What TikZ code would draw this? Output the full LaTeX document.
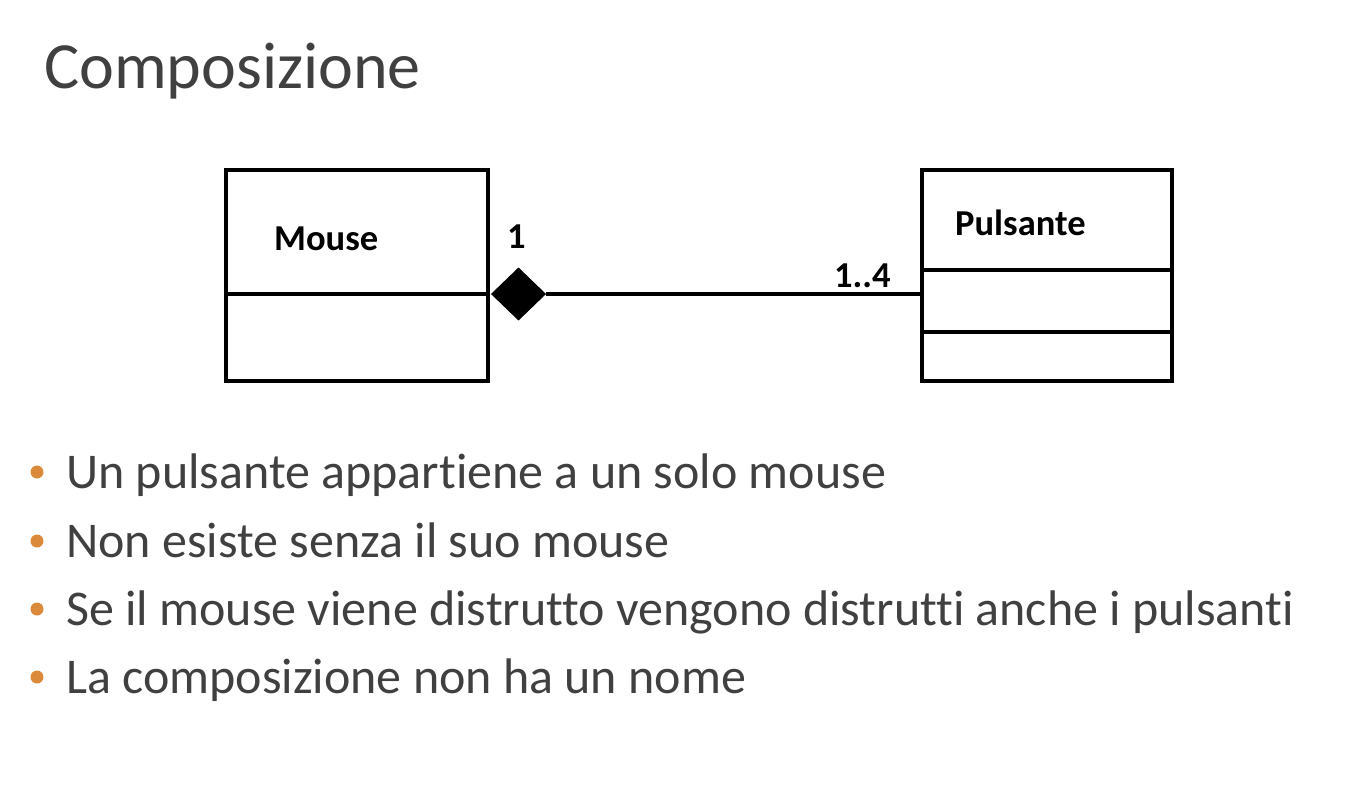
\documentclass[tikz,border=0pt]{standalone}
\usepackage{fontspec}
\setmainfont[Ligatures={NoCommon}]{Carlito}
\usetikzlibrary{shapes.geometric}
\definecolor{txt}{HTML}{404040}
\definecolor{bul}{HTML}{DA8A3A}
\begin{document}
\begin{tikzpicture}[x=1pt,y=-1pt,
  classbox/.style={draw=black, line width=3.5pt, rectangle, inner sep=0pt},
  divider/.style={draw=black, line width=3.5pt},
  comp/.style={diamond, fill=black, draw=black, line width=1pt, inner sep=0pt, minimum width=54pt, minimum height=52pt},
  conn/.style={draw=black, line width=3.5pt},
  lbl/.style={font=\fontsize{36.5}{40}\selectfont\bfseries, text=black, inner sep=0pt, anchor=base west},
  titletext/.style={font=\fontsize{66}{70}\selectfont, text=txt, inner sep=0pt, anchor=base west},
  item/.style={font=\fontsize{50}{54}\selectfont, text=txt, inner sep=0pt, anchor=base west},
  dot/.style={circle, fill=bul, inner sep=0pt, minimum size=13pt}
]
\useasboundingbox (0,0) rectangle (1349,796);
\node[titletext] (title) at (44,88) {Composizione};
% Mouse class
\node[classbox, minimum width=262pt, minimum height=211pt] (mouse) at (357,275.5) {};
\draw[divider] (226,294) -- (488,294);
\node[lbl] (mname) at (274,250) {Mouse};
% Pulsante class
\node[classbox, minimum width=250pt, minimum height=211pt] (puls) at (1047,275.5) {};
\draw[divider] (922,270) -- (1172,270);
\draw[divider] (922,332) -- (1172,332);
\node[lbl] (pname) at (955,235) {Pulsante};
% composition
\node[comp, anchor=west] (dia) at (491,294) {};
\draw[conn] (dia.east) -- (puls.west |- dia.east);
\node[lbl] (m1) at (507,248) {1};
\node[lbl] (m2) at (834,287) {1..4};
% bullets
\node[dot] (b1) at (37,472) {};
\node[item] (t1) at (66,488) {Un pulsante appartiene a un solo mouse};
\node[dot] (b2) at (37,541) {};
\node[item] (t2) at (66,557) {Non esiste senza il suo mouse};
\node[dot] (b3) at (37,609) {};
\node[item] (t3) at (66,625) {Se il mouse viene distrutto vengono distrutti anche i pulsanti};
\node[dot] (b4) at (37,677) {};
\node[item] (t4) at (66,693) {La composizione non ha un nome};
\end{tikzpicture}
\end{document}
